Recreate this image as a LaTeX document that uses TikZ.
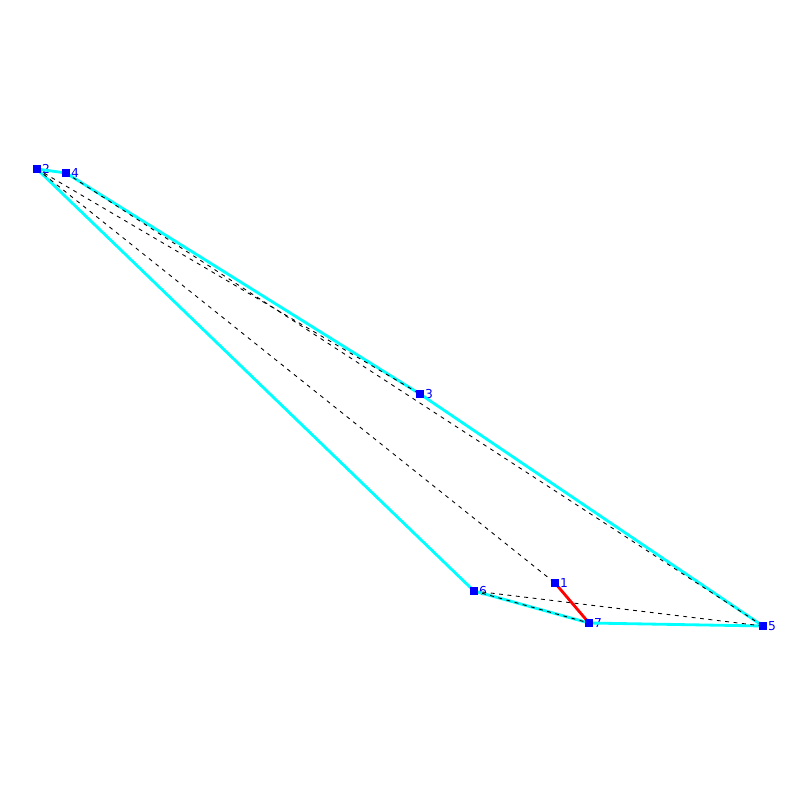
\documentclass[tikz,border=0pt]{standalone}
\usepackage{fontspec}
\setmainfont{DejaVu Sans}
\definecolor{hullcyan}{RGB}{0,255,255}
\definecolor{ptblue}{RGB}{0,0,255}
\definecolor{cutred}{RGB}{255,0,0}
\begin{document}
\begin{tikzpicture}[
    x=0.02cm, y=-0.02cm,
    vertex/.style={rectangle, fill=ptblue, inner sep=0pt, minimum size=1.5mm,
        label={[text=ptblue, font=\fontsize{7}{7}\selectfont, inner sep=0.4pt]right:#1}},
    hull/.style={hullcyan, line width=1.6pt},
    diag/.style={black, dashed, line width=0.5pt, dash pattern=on 2.2pt off 2.6pt},
    cut/.style={cutred, line width=1.6pt}
]
\useasboundingbox (0,0) rectangle (800,800);

% Vertices
\node[vertex=1] (v1) at (555, 583) {};
\node[vertex=2] (v2) at (37, 169) {};
\node[vertex=3] (v3) at (420, 394) {};
\node[vertex=4] (v4) at (66, 173) {};
\node[vertex=5] (v5) at (763, 626) {};
\node[vertex=6] (v6) at (474, 591) {};
\node[vertex=7] (v7) at (589, 623) {};

% Outer boundary
\draw[hull] (v2.center) -- (v4.center) -- (v3.center) -- (v5.center)
    -- (v7.center) -- (v6.center) -- cycle;

% Dashed diagonals
\draw[diag] (v2.center) -- (v3.center);
\draw[diag] (v2.center) -- (v1.center);
\draw[diag] (v4.center) -- (v5.center);
\draw[diag] (v6.center) -- (v5.center);
\draw[diag] (v6.center) -- (v7.center);

% Red segment
\draw[cut] (v1.center) -- (v7.center);

% Squares again on top
\foreach \v in {1,...,7}
    \fill[ptblue] (v\v.south west) rectangle (v\v.north east);

\end{tikzpicture}
\end{document}
